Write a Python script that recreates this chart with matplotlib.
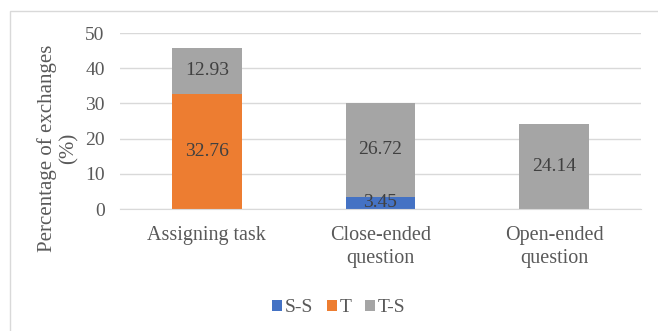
import matplotlib.pyplot as plt
from matplotlib.patches import Rectangle
import numpy as np

categories = ["Assigning task", "Close-ended\nquestion", "Open-ended\nquestion"]
series = ["S-S", "T", "T-S"]
ss = [0, 3.45, 0]
t = [32.76, 0, 0]
ts = [12.93, 26.72, 24.14]
colors = ["#4472C4", "#ED7D31", "#A5A5A5"]

plt.rcParams["font.family"] = ["Liberation Serif", "DejaVu Serif"]
text_color = "#595959"

fig = plt.figure(figsize=(6.58, 3.31), dpi=100)
# outer chart border (runs off the right and bottom edges)
fig.patches.append(Rectangle((10 / 658, -0.1), 1.0, 1 - 11 / 331 + 0.1, transform=fig.transFigure,
                             fill=False, edgecolor="#D9D9D9", linewidth=1))
ax = fig.add_axes([120 / 658, 122 / 331, 521 / 658, 176 / 331])

x = np.arange(len(categories))
width = 0.4
bottom = np.zeros(len(categories))
for name, vals, color in zip(series, [ss, t, ts], colors):
    vals = np.array(vals)
    rects = ax.bar(x, vals, width, bottom=bottom, color=color, label=name)
    labels = ["%.2f" % v if v > 0 else "" for v in vals]
    ax.bar_label(rects, labels=labels, label_type="center", fontsize=14, color="#404040")
    bottom += vals

ax.set_xlim(-0.5, 2.5)
ax.set_ylim(0, 50)
ax.set_yticks(range(0, 51, 10))
ax.set_xticks(x)
ax.set_xticklabels(categories, fontsize=14.5, color=text_color, linespacing=1.3)
ax.tick_params(axis="y", labelsize=14, labelcolor=text_color, length=0, pad=11)
ax.tick_params(axis="x", length=0, pad=12)
ax.grid(axis="y", color="#D9D9D9", linewidth=1)
ax.set_axisbelow(True)
for s in ["top", "right", "left"]:
    ax.spines[s].set_visible(False)
ax.spines["bottom"].set_color("#D9D9D9")
fig.text(58 / 658, 1 - 148 / 331, "Percentage of exchanges\n(%)", rotation=90, ha="center", va="center",
         fontsize=15, color=text_color, linespacing=1.15)

ax.legend(loc="center", bbox_to_anchor=(339 / 658, 23 / 331), bbox_transform=fig.transFigure,
          ncols=3, frameon=False, fontsize=14, handlelength=0.5, handleheight=0.5,
          handletextpad=0.15, columnspacing=0.7, labelcolor=text_color)

fig.savefig("out.png", dpi=100)
